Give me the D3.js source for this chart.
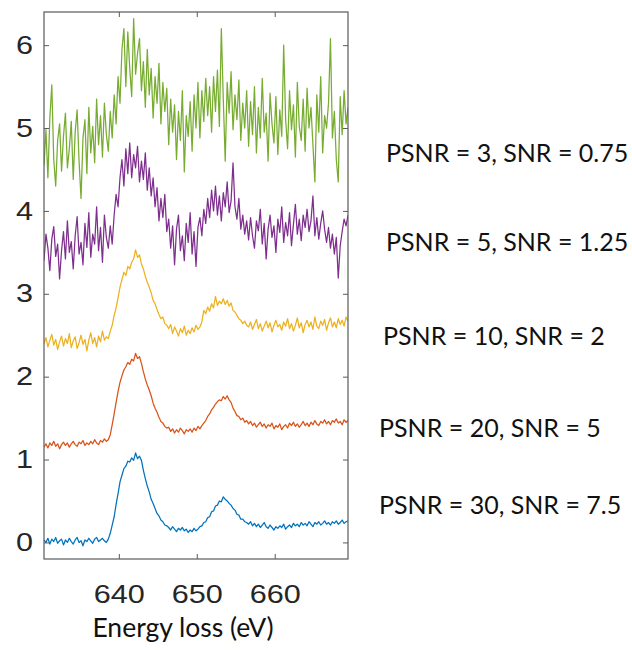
<!DOCTYPE html>
<html><head><meta charset="utf-8">
<script src="https://cdn.jsdelivr.net/npm/d3@7"></script>
<style>body{margin:0;background:#fff}</style>
</head><body>
<svg id="c" width="632" height="650"></svg>
<script>
// Energy grid (eV)
const energyStart = 630.4;
const energyStep = 0.25;

// Series values (normalised intensity, offset)
const psnr30 = [0.03,0.00,0.05,-0.02,0.04,0.01,0.06,-0.01,0.02,0.04,-0.03,0.03,0.00,0.05,0.01,-0.02,0.03,0.06,0.00,0.02,-0.04,0.03,0.01,0.05,0.02,-0.01,0.04,0.06,0.01,0.03,0.05,0.02,0.00,
0.04,0.11,0.21,0.31,0.46,0.59,0.73,0.81,0.89,0.92,0.98,0.97,1.02,0.99,1.08,1.01,1.04,0.99,
0.87,0.77,0.68,0.61,0.52,0.47,0.41,0.35,0.32,0.27,0.25,0.21,0.20,
0.18,0.15,0.19,0.16,0.13,0.17,0.15,0.18,0.14,0.16,0.12,0.15,0.13,0.17,0.14,0.16,0.19,
0.20,0.24,0.25,0.30,0.31,0.37,0.38,0.44,0.45,0.50,0.49,0.55,0.52,0.50,0.47,0.45,0.41,0.39,0.34,0.33,0.28,0.28,0.25,0.24,
0.22,0.25,0.20,0.23,0.19,0.22,0.18,0.21,0.24,0.19,0.17,0.21,0.18,0.15,0.19,0.17,
0.20,0.18,0.22,0.16,0.19,0.21,0.18,0.23,0.20,0.22,
0.19,0.24,0.21,0.23,0.20,0.25,0.22,0.19,0.24,0.22,
0.25,0.21,0.23,0.26,0.22,0.24,0.21,0.25,0.23,0.26,
0.22,0.24,0.27,0.23,0.25,0.26];

const psnr20 = [1.15,1.19,1.14,1.20,1.17,1.22,1.16,1.19,1.13,1.18,1.21,1.17,1.20,1.15,1.19,1.22,1.18,1.16,1.21,1.19,1.23,1.17,1.20,1.18,1.22,1.19,1.24,1.20,1.18,1.23,1.21,1.25,1.22,
1.24,1.30,1.42,1.55,1.69,1.82,1.93,2.01,2.08,2.12,2.17,2.15,2.21,2.19,2.28,2.22,2.24,2.16,
2.06,1.97,1.90,1.84,1.77,1.68,1.62,1.57,1.51,1.46,1.44,1.40,1.38,
1.39,1.34,1.37,1.32,1.36,1.33,1.38,1.35,1.31,1.36,1.34,1.37,1.33,1.38,1.35,1.40,1.37,
1.41,1.44,1.47,1.52,1.55,1.60,1.63,1.67,1.70,1.72,1.71,1.76,1.73,1.77,1.72,1.69,1.62,1.58,1.53,1.52,1.48,1.50,1.45,1.47,
1.43,1.46,1.41,1.44,1.39,1.42,1.45,1.40,1.43,1.38,
1.42,1.40,1.44,1.37,1.41,1.39,1.43,1.36,1.40,1.42,
1.38,1.44,1.41,1.45,1.40,1.43,1.39,1.42,1.46,1.41,
1.44,1.40,1.45,1.42,1.47,1.43,1.41,1.46,1.44,1.48,
1.43,1.46,1.42,1.47,1.45,1.49,1.44,1.46,1.42,1.48,1.45,1.47];

const psnr10 = [2.40,2.47,2.36,2.44,2.51,2.38,2.45,2.33,2.42,2.49,2.37,2.46,2.40,2.52,2.35,2.43,2.48,2.34,2.41,2.50,2.39,2.45,2.31,2.44,2.53,2.40,2.47,2.36,2.49,2.42,2.55,2.44,2.48,
2.46,2.55,2.62,2.74,2.83,2.95,3.08,3.17,3.26,3.22,3.33,3.30,3.38,3.42,3.53,3.44,3.47,3.36,
3.30,3.21,3.14,3.08,3.01,2.92,2.88,2.81,2.75,2.70,2.72,2.64,2.62,
2.58,2.63,2.52,2.60,2.55,2.49,2.58,2.53,2.61,2.50,2.56,2.52,2.59,2.54,2.62,2.57,2.60,
2.66,2.80,2.76,2.84,2.79,2.88,2.83,2.97,2.86,2.91,2.88,2.94,2.87,2.92,2.85,2.89,2.80,2.78,2.74,2.70,2.68,2.64,2.67,2.62,
2.60,2.66,2.57,2.63,2.69,2.58,2.64,2.55,2.61,2.67,
2.59,2.65,2.54,2.62,2.68,2.60,2.63,2.56,2.66,2.61,
2.70,2.58,2.64,2.55,2.62,2.71,2.59,2.65,2.53,2.63,
2.68,2.60,2.66,2.57,2.72,2.61,2.58,2.67,2.62,2.69,
2.56,2.65,2.71,2.60,2.66,2.59,2.70,2.63,2.68,2.61,2.72,2.67];

const psnr5 = [3.40,3.72,3.55,3.28,3.66,3.81,3.45,3.60,3.18,3.52,3.75,3.42,3.88,3.50,3.63,3.30,3.70,3.93,3.48,3.62,3.35,3.85,3.56,3.98,3.44,3.72,3.60,4.05,3.52,3.80,3.38,3.95,3.68,
3.55,3.82,3.60,3.95,4.20,4.05,4.40,4.62,4.30,4.75,4.45,4.82,4.40,4.68,4.52,4.78,4.35,4.60,
4.38,4.70,4.25,4.52,4.18,4.40,4.05,4.28,3.88,4.15,3.92,4.20,3.75,
3.90,3.55,3.82,3.35,3.78,3.95,3.52,3.70,3.40,3.85,3.62,3.98,3.48,3.75,3.33,3.80,3.92,
3.70,4.02,3.85,4.15,3.92,4.25,4.00,4.30,3.95,4.18,3.88,4.22,4.05,4.35,3.98,4.12,4.58,4.05,3.90,4.15,3.78,3.95,3.72,3.88,
3.65,3.92,3.70,3.55,3.88,3.76,4.02,3.60,3.85,3.42,
3.78,3.95,3.68,3.82,3.50,3.90,3.74,4.05,3.62,3.86,
3.70,3.98,3.58,3.84,4.08,3.72,3.90,3.64,3.95,3.80,
4.02,3.75,3.88,4.18,3.70,3.92,3.66,3.85,4.00,3.78,
3.62,3.80,3.55,3.72,3.48,3.68,3.19,3.58,3.75,3.90,3.82,3.95];

const psnr3 = [4.55,4.98,4.40,5.12,5.52,4.62,4.30,4.85,5.05,4.48,4.90,5.18,4.52,4.75,5.08,4.38,4.95,5.22,4.60,4.15,4.88,5.10,4.45,5.25,4.70,5.02,4.58,5.35,4.80,5.15,4.65,5.30,4.92,
4.72,5.20,4.88,5.40,5.05,5.62,5.30,5.95,6.20,5.50,6.16,5.72,5.38,6.32,5.65,5.90,6.08,5.45,
5.80,5.25,5.95,5.40,5.72,5.12,5.62,5.30,5.78,5.05,5.55,5.20,5.48,
4.80,5.35,4.95,5.28,4.62,5.20,4.85,5.45,4.47,5.15,4.90,5.32,4.72,5.40,5.00,5.55,4.88,
5.45,5.08,5.60,5.15,5.50,4.95,5.62,5.20,5.70,5.02,6.20,5.35,4.60,5.55,5.18,5.68,4.98,5.40,5.10,5.58,4.85,5.30,5.00,5.45,
4.78,5.32,4.92,5.50,4.70,5.25,4.88,5.60,4.95,5.18,
4.60,5.42,5.05,4.82,5.38,4.68,5.22,4.90,6.00,5.10,
4.75,5.45,4.98,5.28,4.65,5.55,5.02,4.85,5.35,4.72,
5.48,5.00,5.25,4.80,4.35,5.40,4.95,5.62,4.70,5.15,
5.00,5.30,6.08,4.88,5.20,4.62,4.35,5.38,4.92,5.45,5.05,5.25];

const seriesLabels = ["PSNR = 30, SNR = 7.5","PSNR = 20, SNR = 5","PSNR = 10, SNR = 2","PSNR = 5, SNR = 1.25","PSNR = 3, SNR = 0.75"];
const seriesColors = ["#0072BD","#D95319","#EDB120","#7E2F8E","#77AC30"];
const xTicks = [640,650,660];
const yTicks = [0,1,2,3,4,5,6];
const xLabel = "Energy loss (eV)";

const allSeries = [psnr30, psnr20, psnr10, psnr5, psnr3];
const energies = d3.range(psnr30.length).map(i => energyStart + i * energyStep);

const svg = d3.select("#c");
const m = {left:44, top:12, right:284, bottom:91};
const W = 632 - m.left - m.right, H = 650 - m.top - m.bottom;
const g = svg.append("g").attr("transform", `translate(${m.left},${m.top})`);

const x = d3.scaleLinear().domain([630.4, 669.4]).range([0, W]);
const y = d3.scaleLinear().domain([-0.2, 6.4]).range([H, 0]);

g.append("clipPath").attr("id","clip").append("rect").attr("width",W).attr("height",H);

const line = d3.line().x((d,i) => x(energies[i])).y(d => y(d));
const plot = g.append("g").attr("clip-path","url(#clip)");
allSeries.forEach((s, k) => {
  plot.append("path").datum(s).attr("d", line)
    .attr("fill","none").attr("stroke", seriesColors[k]).attr("stroke-width",1.25)
    .attr("stroke-linejoin","round");
});

const axisColor = "#5a5a5a";
const tickFont = "'Liberation Sans', Arial, sans-serif";

const ax = g.append("g").attr("transform",`translate(0,${H})`)
  .call(d3.axisBottom(x).tickValues(xTicks).tickSizeInner(-5).tickSizeOuter(0).tickPadding(26).tickFormat(d3.format("d")));
const axT = g.append("g").call(d3.axisTop(x).tickValues(xTicks).tickSizeInner(-5).tickSizeOuter(0).tickFormat(""));
const ay = g.append("g")
  .call(d3.axisLeft(y).tickValues(yTicks).tickSizeInner(-5).tickSizeOuter(0).tickPadding(11).tickFormat(d3.format("d")));
const ayR = g.append("g").attr("transform",`translate(${W},0)`)
  .call(d3.axisRight(y).tickValues(yTicks).tickSizeInner(-5).tickSizeOuter(0).tickFormat(""));

[ax, axT, ay, ayR].forEach(a => {
  a.select(".domain").remove();
  a.selectAll("line").attr("stroke", axisColor);
  a.selectAll("text").attr("fill","#262626").style("font-family", tickFont).style("font-size","25.5px");
});
[ax, ay].forEach(a => a.selectAll("text").each(function(){
  const w = this.getComputedTextLength();
  d3.select(this).attr("textLength", w*1.2).attr("lengthAdjust","spacingAndGlyphs");
}));

g.append("rect").attr("width",W).attr("height",H).attr("fill","none").attr("stroke",axisColor).attr("stroke-width",1.2);

svg.append("text").attr("x",183).attr("y",637).attr("text-anchor","middle")
  .style("font-family","Lato, 'Open Sans', sans-serif").style("font-size","26.5px").attr("fill","#111")
  .text(xLabel);

const labelPos = [[379,514],[379,437],[383,345],[386,251],[386,162]];
seriesLabels.forEach((t,k) => {
  svg.append("text").attr("x",labelPos[k][0]).attr("y",labelPos[k][1])
    .style("font-family","Lato, 'Open Sans', sans-serif").style("font-size","25px").attr("fill","#111")
    .text(t);
});
</script>
</body></html>
